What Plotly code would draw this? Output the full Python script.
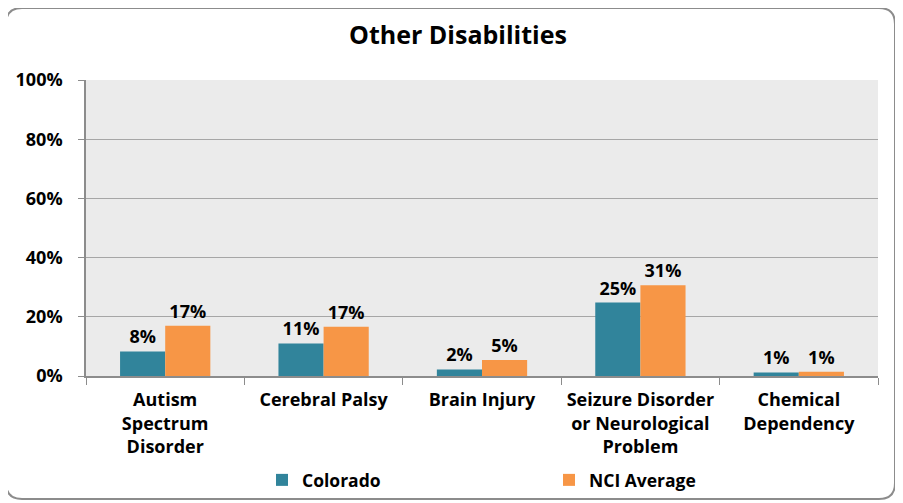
import plotly.graph_objects as go

categories = ["Autism<br>Spectrum<br>Disorder", "Cerebral Palsy", "Brain Injury",
              "Seizure Disorder<br>or Neurological<br>Problem", "Chemical<br>Dependency"]
colorado = [8.3, 11.0, 2.2, 24.8, 1.2]
nci_average = [17.0, 16.6, 5.4, 30.7, 1.4]
y_ticks = [0, 20, 40, 60, 80, 100]
y_tick_labels = ["0%", "20%", "40%", "60%", "80%", "100%"]

# page is rendered with an 8px body margin, so work in shifted coordinates
O = 8
W, H = 903, 503
L, T = 86 - O, 80 - O
R = W - (878 - O)
B = H - (376 - O)
pw, ph = W - L - R, H - T - B

FONT = "Open Sans"
FS = 18

fig = go.Figure()
fig.add_trace(go.Bar(name="<b>Colorado</b>", x=categories, y=colorado,
                     marker=dict(color="#31849B", line=dict(width=0)),
                     texttemplate="<b>%{y:.0f}%</b>", textposition="outside",
                     textfont=dict(family=FONT, size=FS, color="black"),
                     cliponaxis=False))
fig.add_trace(go.Bar(name="<b>NCI Average</b>", x=categories, y=nci_average,
                     marker=dict(color="#F79646", line=dict(width=0)),
                     texttemplate="<b>%{y:.0f}%</b>", textposition="outside",
                     textfont=dict(family=FONT, size=FS, color="black"),
                     cliponaxis=False))

def px2paper(x, y):
    x -= O
    y -= O
    return (x - L) / pw, (H - B - y) / ph

# rounded border around the chart (page pixel coordinates)
x0, y0, x1, y1, r = 6, 8, 895, 499, 16
pts = [("M", x0 + r, y0), ("L", x1 - r, y0), ("Q", x1, y0, x1, y0 + r),
       ("L", x1, y1 - r), ("Q", x1, y1, x1 - r, y1), ("L", x0 + r, y1),
       ("Q", x0, y1, x0, y1 - r), ("L", x0, y0 + r), ("Q", x0, y0, x0 + r, y0)]
path = ""
for p in pts:
    coords = p[1:]
    s = []
    for i in range(0, len(coords), 2):
        a, b = px2paper(coords[i], coords[i + 1])
        s.append(f"{a:.5f},{b:.5f}")
    path += p[0] + " " + " ".join(s) + " "
path += "Z"

fig.add_shape(type="path", path=path, xref="paper", yref="paper",
              line=dict(color="#8C8C8C", width=2), fillcolor="rgba(0,0,0,0)", layer="below")

lx, ly = px2paper(262, 480)
fig.update_layout(
    width=W, height=H,
    margin=dict(l=L, r=R, t=T, b=B, autoexpand=False),
    paper_bgcolor="white",
    plot_bgcolor="#EBEBEB",
    title=dict(text="<b>Other Disabilities</b>", x=(458 - O) / W, xanchor="center",
               y=1 - (35 - O) / H, yanchor="middle",
               font=dict(family=FONT, size=25, color="black")),
    barmode="group",
    bargap=0.43,
    bargroupgap=0,
    font=dict(family=FONT, color="black"),
    showlegend=True,
    legend=dict(orientation="h", x=lx, xanchor="left",
                y=ly, yanchor="middle",
                font=dict(family=FONT, size=17.5, color="black"),
                entrywidth=242, entrywidthmode="pixels",
                itemsizing="constant", bgcolor="rgba(0,0,0,0)"),
    xaxis=dict(tickson="boundaries", ticks="outside", ticklen=7, tickcolor="#8C8C8C",
               showline=True, linecolor="#8C8C8C", linewidth=1.5,
               tickmode="array", tickvals=categories,
               ticktext=[f"<b>{c}</b>" for c in categories],
               tickfont=dict(family=FONT, size=FS, color="black"),
               tickangle=0, ticklabelstandoff=7,
               showgrid=False, automargin=False),
    yaxis=dict(range=[0, 100], tickvals=y_ticks, ticktext=[f"<b>{t}</b>" for t in y_tick_labels],
               ticks="outside", ticklen=6, tickcolor="#8C8C8C",
               showline=True, linecolor="#8C8C8C", linewidth=1.5,
               gridcolor="#A6A6A6", gridwidth=1, zeroline=False,
               ticklabelstandoff=12,
               tickfont=dict(family=FONT, size=FS, color="black"), automargin=False),
)

fig.write_html("out.html")
